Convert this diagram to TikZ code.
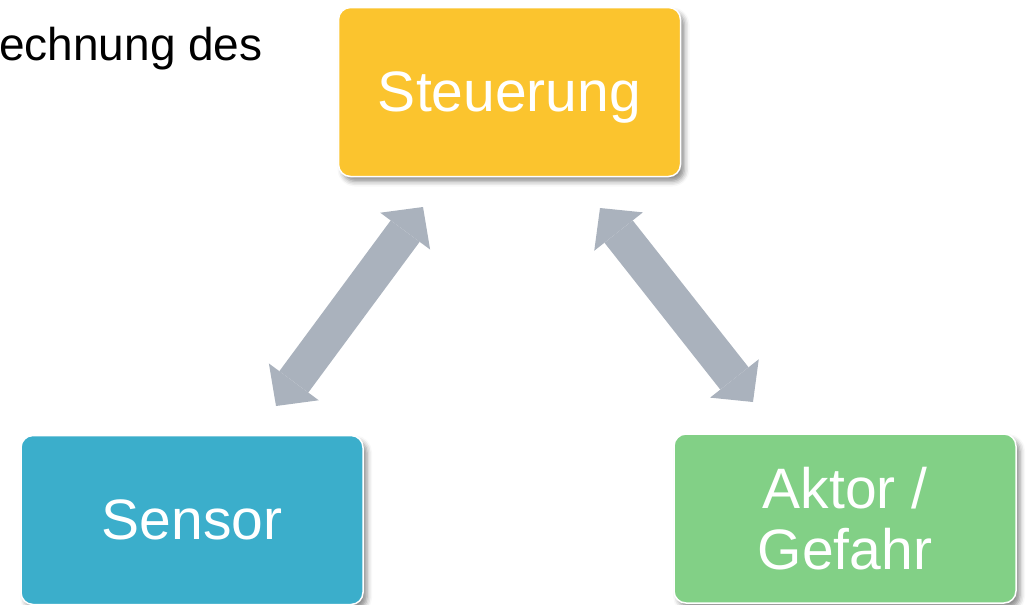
\documentclass[tikz,border=0pt]{standalone}
\usepackage{fontspec}
\setmainfont{Liberation Sans}
\usepackage{tikz}
\usetikzlibrary{arrows.meta, positioning, shadows.blur}
\definecolor{steuergelb}{RGB}{251,196,46}
\definecolor{sensorblau}{RGB}{59,174,203}
\definecolor{aktorgruen}{RGB}{130,208,134}
\definecolor{pfeilgrau}{RGB}{170,178,189}

\begin{document}
\begin{tikzpicture}[
    x=1pt, y=-1pt,
    box/.style={rectangle, rounded corners=12pt, draw=white, line width=1.5pt,
      minimum width=342pt, minimum height=169pt, inner sep=0pt,
      text=white, font=\fontsize{57}{61}\selectfont, align=center, text depth=0pt,
      blur shadow={shadow xshift=4pt, shadow yshift=-5pt,
        shadow blur radius=5pt, shadow opacity=45}},
    link/.style={line width=36pt, draw=pfeilgrau,
      {Triangle[length=30pt, width=62pt, line width=0pt]}-{Triangle[length=30pt, width=62pt, line width=0pt]}},
  ]
    \useasboundingbox (0,0) rectangle (1028,605);
    % text at top left
    \node[anchor=base west, inner sep=0pt, font=\fontsize{46}{55}\selectfont]
          (titel) at (-1,60) {echnung des};
    % boxes
    \node[box, fill=steuergelb] (steuer) at (509.5,92)  {Steuerung};
    \node[box, fill=sensorblau] (sensor) at (192,520)   {Sensor};
    \node[box, fill=aktorgruen] (aktor)  at (845,518.5) {Aktor /\\Gefahr};
    % arrow ends
    \coordinate (sensorEnd) at (276,406);
    \coordinate (steuerL)   at (423,207);
    \coordinate (steuerR)   at (600,208);
    \coordinate (aktorEnd)  at (753,402);
    % arrows
    \draw[link] (sensorEnd) -- (steuerL);
    \draw[link] (steuerR) -- (aktorEnd);
  \end{tikzpicture}
\end{document}
